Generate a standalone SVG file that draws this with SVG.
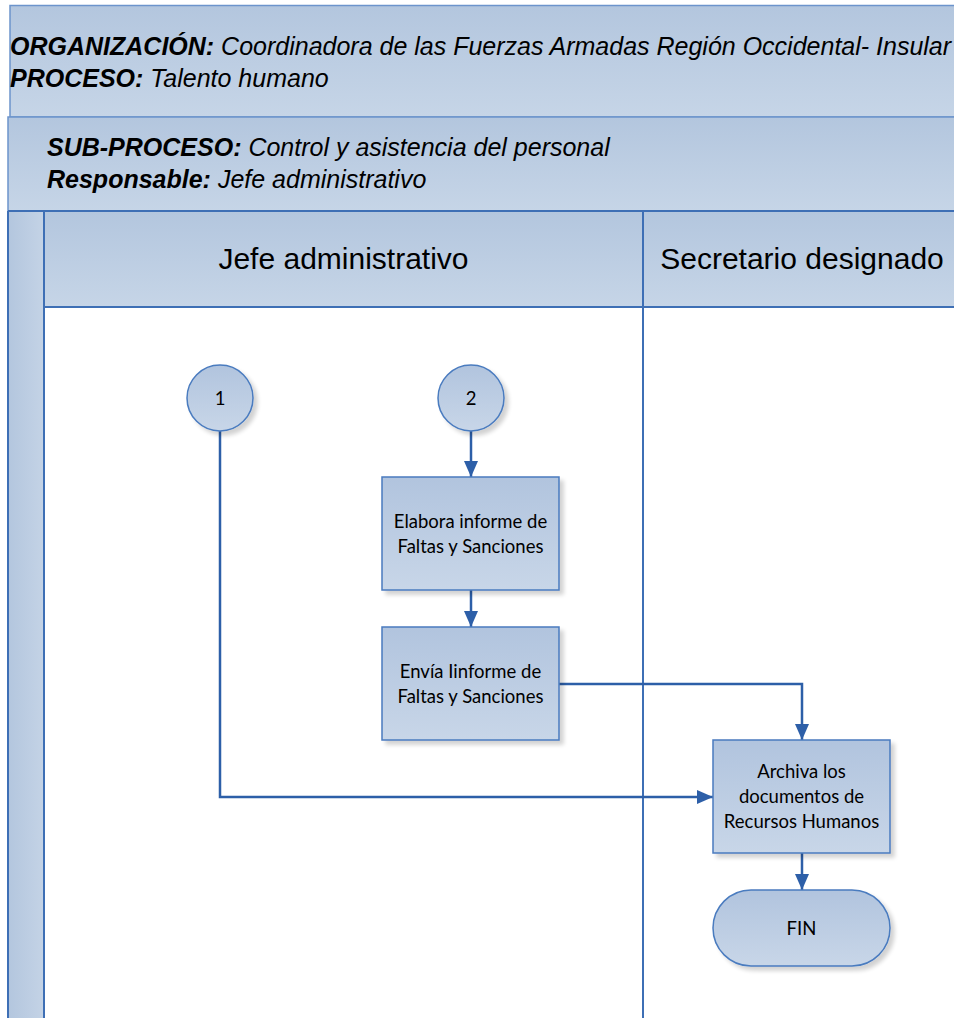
<svg xmlns="http://www.w3.org/2000/svg" width="954" height="1018" viewBox="0 0 954 1018">
  <defs>
    <linearGradient id="bandFill" x1="0" y1="0" x2="0" y2="1">
      <stop offset="0" stop-color="#b3c6de"/>
      <stop offset="1" stop-color="#c6d5e7"/>
    </linearGradient>
    <linearGradient id="stripFill" x1="0" y1="0" x2="1" y2="0">
      <stop offset="0" stop-color="#b3c6de"/>
      <stop offset="1" stop-color="#c4d3e6"/>
    </linearGradient>
    <linearGradient id="nodeFill" x1="0" y1="0" x2="0" y2="1">
      <stop offset="0" stop-color="#b1c4de"/>
      <stop offset="1" stop-color="#c8d6e8"/>
    </linearGradient>
    <filter id="shadow" x="-10%" y="-10%" width="130%" height="130%">
      <feGaussianBlur in="SourceAlpha" stdDeviation="2"/>
      <feOffset dx="4" dy="4" result="off"/>
      <feComponentTransfer><feFuncA type="linear" slope="0.18"/></feComponentTransfer>
      <feMerge><feMergeNode/><feMergeNode in="SourceGraphic"/></feMerge>
    </filter>
    <marker id="arrow" viewBox="0 0 16 14" refX="16" refY="7" markerWidth="16" markerHeight="14" markerUnits="userSpaceOnUse" orient="auto">
      <path d="M0,0 L16,7 L0,14 Z" fill="#2d5fa8"/>
    </marker>
    <style>
      .band { fill: url(#bandFill); stroke: #6c94cc; stroke-width: 1.5; }
      .lane-line { stroke: #3e6fb5; stroke-width: 2; fill: none; }
      .node { fill: url(#nodeFill); stroke: #4a7bbf; stroke-width: 1.5; filter: url(#shadow); }
      .conn { stroke: #2d5fa8; stroke-width: 2.5; fill: none; marker-end: url(#arrow); }
      .hdr { font-family: "Liberation Sans", Arial, sans-serif; font-size: 25px; font-style: italic; fill: #000; }
      .lane-title { font-family: "Liberation Sans", Arial, sans-serif; font-size: 30px; fill: #000; text-anchor: middle; }
      .label { font-family: Lato, "Liberation Sans", sans-serif; font-size: 18.5px; fill: #000; text-anchor: middle; }
    </style>
  </defs>

  <!-- page background -->
  <rect x="0" y="0" width="954" height="1018" fill="#ffffff"/>

  <!-- organisation / process band -->
  <g id="header-organizacion">
    <rect class="band" x="10" y="5.5" width="960" height="111.5"/>
    <text class="hdr" x="10" y="55"><tspan font-weight="bold">ORGANIZACIÓN:</tspan> Coordinadora de las Fuerzas Armadas Región Occidental- Insular</text>
    <text class="hdr" x="10" y="87"><tspan font-weight="bold">PROCESO:</tspan> Talento humano</text>
  </g>

  <!-- sub-process band -->
  <g id="header-subproceso">
    <rect class="band" x="8" y="117" width="962" height="94"/>
    <text class="hdr" x="47" y="156"><tspan font-weight="bold">SUB-PROCESO:</tspan> Control y asistencia del personal</text>
    <text class="hdr" x="47" y="188"><tspan font-weight="bold">Responsable:</tspan> Jefe administrativo</text>
  </g>

  <!-- pool side strip and lanes -->
  <g id="lanes">
    <rect x="8" y="211" width="36" height="820" fill="url(#stripFill)"/>
    <rect x="44" y="211" width="920" height="96" fill="url(#bandFill)"/>
    <rect x="44" y="307" width="920" height="720" fill="#ffffff"/>
    <line class="lane-line" x1="8" y1="211" x2="954" y2="211"/>
    <line class="lane-line" x1="8" y1="211" x2="8" y2="1018"/>
    <line class="lane-line" x1="44" y1="211" x2="44" y2="1018"/>
    <line class="lane-line" x1="44" y1="307" x2="954" y2="307"/>
    <line class="lane-line" x1="643" y1="211" x2="643" y2="1018"/>
    <text class="lane-title" x="343.5" y="269">Jefe administrativo</text>
    <text class="lane-title" x="802" y="269">Secretario designado</text>
  </g>

  <!-- connectors -->
  <g id="connectors">
    <path class="conn" d="M220,431 L220,797 L713,797"/>
    <path class="conn" d="M471,431 L471,477"/>
    <path class="conn" d="M471,590 L471,627"/>
    <path class="conn" d="M559,684 L802,684 L802,740"/>
    <path class="conn" d="M802,853 L802,890"/>
  </g>

  <!-- off-page connector 1 -->
  <g id="connector-1">
    <circle class="node" cx="220" cy="398" r="33"/>
    <text class="label" x="220" y="405" font-size="17">1</text>
  </g>

  <!-- off-page connector 2 -->
  <g id="connector-2">
    <circle class="node" cx="471" cy="398" r="33"/>
    <text class="label" x="471" y="405" font-size="17">2</text>
  </g>

  <g id="elabora-informe">
    <rect class="node" x="382" y="477" width="177" height="113"/>
    <text class="label" x="470.5" y="528">Elabora informe de</text>
    <text class="label" x="470.5" y="553">Faltas y Sanciones</text>
  </g>

  <g id="envia-informe">
    <rect class="node" x="382" y="627" width="177" height="113"/>
    <text class="label" x="470.5" y="678">Envía Iinforme de</text>
    <text class="label" x="470.5" y="703">Faltas y Sanciones</text>
  </g>

  <g id="archiva-documentos">
    <rect class="node" x="713" y="740" width="177" height="113"/>
    <text class="label" x="801.5" y="778">Archiva los</text>
    <text class="label" x="801.5" y="803">documentos de</text>
    <text class="label" x="801.5" y="828">Recursos Humanos</text>
  </g>

  <g id="fin">
    <rect class="node" x="713" y="890" width="177" height="76" rx="38" ry="38"/>
    <text class="label" x="801.5" y="935">FIN</text>
  </g>
</svg>
